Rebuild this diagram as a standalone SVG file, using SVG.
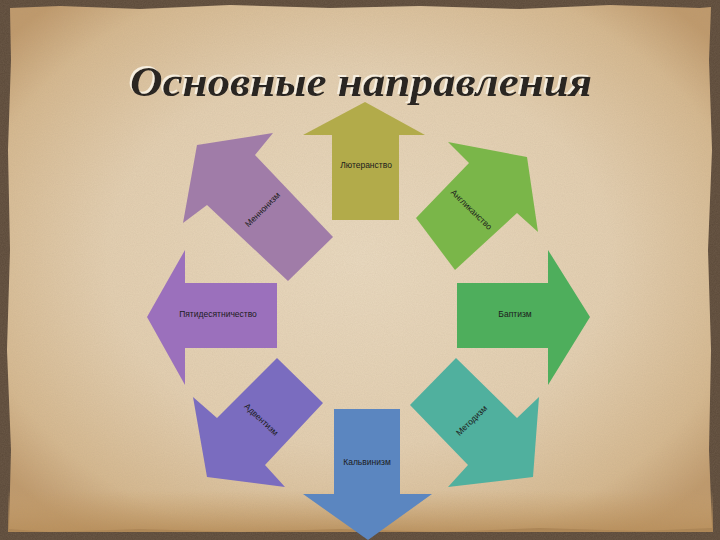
<svg xmlns="http://www.w3.org/2000/svg" width="720" height="540" viewBox="0 0 720 540">
  <defs>
    <radialGradient id="paper" cx="50%" cy="48%" r="65%">
      <stop offset="0" stop-color="#eadac0"/>
      <stop offset="0.55" stop-color="#e4d0b2"/>
      <stop offset="0.85" stop-color="#d6b990"/>
      <stop offset="1" stop-color="#c09a6c"/>
    </radialGradient>
    <linearGradient id="bottomBand" x1="0" y1="0" x2="0" y2="1">
      <stop offset="0" stop-color="#c9a06a" stop-opacity="0"/>
      <stop offset="1" stop-color="#b98f5a" stop-opacity="0.9"/>
    </linearGradient>
    <filter id="noise" x="0" y="0" width="100%" height="100%">
      <feTurbulence type="fractalNoise" baseFrequency="0.9" numOctaves="2" seed="3" result="n"/>
      <feColorMatrix type="matrix" values="0 0 0 0 0.35  0 0 0 0 0.27  0 0 0 0 0.18  0 0 0 0.25 0" in="n"/>
      <feComposite operator="in" in2="SourceGraphic"/>
    </filter>
    <filter id="emboss" x="-5%" y="-20%" width="110%" height="140%">
      <feOffset in="SourceAlpha" dx="-2" dy="-2" result="o"/>
      <feFlood flood-color="#f6eedf"/>
      <feComposite in2="o" operator="in" result="light"/>
      <feMerge>
        <feMergeNode in="light"/>
        <feMergeNode in="SourceGraphic"/>
      </feMerge>
    </filter>
    <style>
      .lbl { font-family: "Liberation Sans", Arial, sans-serif; font-size: 8.5px; fill: #1c1c1c; text-anchor: middle; dominant-baseline: middle; }
      .title { font-family: "Liberation Serif", "Times New Roman", serif; font-weight: bold; font-style: italic; font-size: 43px; text-anchor: middle; }
    </style>
  </defs>

  <!-- background -->
  <rect x="0" y="0" width="720" height="540" fill="#5a4838"/>
  <rect x="0" y="0" width="720" height="540" fill="#5a4838" filter="url(#noise)"/>
  <path d="M10,8 L60,6 L140,9 L230,5 L330,8 L420,6 L520,9 L610,5 L700,8 L711,7 L709,60 L712,150 L708,250 L711,350 L709,450 L712,528 L640,531 L540,528 L440,532 L340,529 L240,532 L140,529 L50,532 L9,529 L11,450 L7,350 L10,250 L8,150 L11,60 Z" fill="url(#paper)"/>
  <rect x="8" y="490" width="705" height="42" fill="url(#bottomBand)"/>
  <path d="M10,8 L60,6 L140,9 L230,5 L330,8 L420,6 L520,9 L610,5 L700,8 L711,7 L709,60 L712,150 L708,250 L711,350 L709,450 L712,528 L640,531 L540,528 L440,532 L340,529 L240,532 L140,529 L50,532 L9,529 L11,450 L7,350 L10,250 L8,150 L11,60 Z" fill="#fff" filter="url(#noise)" opacity="0.6"/>

  <!-- title -->
  <text class="title" x="361" y="96" fill="#2b2520" textLength="462" lengthAdjust="spacingAndGlyphs" filter="url(#emboss)">Основные направления</text>

  <g id="connectors"></g>

  <g id="lutheranism">
    <path d="M365,102 L425,135 L399,135 L399,220 L332,220 L332,135 L303,135 Z" fill="#b2ab4a"/>
    <text class="lbl" x="366" y="166">Лютеранство</text>
  </g>

  <g id="anglicanism">
    <path d="M527,157 L538,232 L517,213 L455,270 L416,218 L469,163 L448,142 Z" fill="#7ab649"/>
    <text class="lbl" x="471" y="210" transform="rotate(44 471 210)">Англиканство</text>
  </g>

  <g id="baptism">
    <path d="M590,317 L548,385 L548,348 L457,348 L457,283 L548,283 L548,250 Z" fill="#4eae5c"/>
    <text class="lbl" x="515" y="315">Баптизм</text>
  </g>

  <g id="methodism">
    <path d="M456,358 L517,418 L539,397 L533,477 L448,487 L468,465 L410,405 Z" fill="#50b09e"/>
    <text class="lbl" x="472" y="421" transform="rotate(-44 472 421)">Методизм</text>
  </g>

  <g id="calvinism">
    <path d="M334,409 L400,409 L400,494 L432,494 L368,540 L303,494 L334,494 Z" fill="#5b86c0"/>
    <text class="lbl" x="367" y="463">Кальвинизм</text>
  </g>

  <g id="adventism">
    <path d="M277,358 L323,403 L265,465 L285,487 L207,477 L193,397 L217,418 Z" fill="#7a6cbf"/>
    <text class="lbl" x="261" y="420" transform="rotate(43 261 420)">Адвентизм</text>
  </g>

  <g id="pentecostalism">
    <path d="M147,317 L185,250 L185,283 L277,283 L277,348 L185,348 L185,385 Z" fill="#9b70bc"/>
    <text class="lbl" x="218" y="315">Пятидесятничество</text>
  </g>

  <g id="mennonism">
    <path d="M197,145 L273,133 L255,155 L333,237 L288,281 L207,205 L183,223 Z" fill="#a07ca8"/>
    <text class="lbl" x="263" y="210" transform="rotate(-45 263 210)">Меннонизм</text>
  </g>
</svg>
